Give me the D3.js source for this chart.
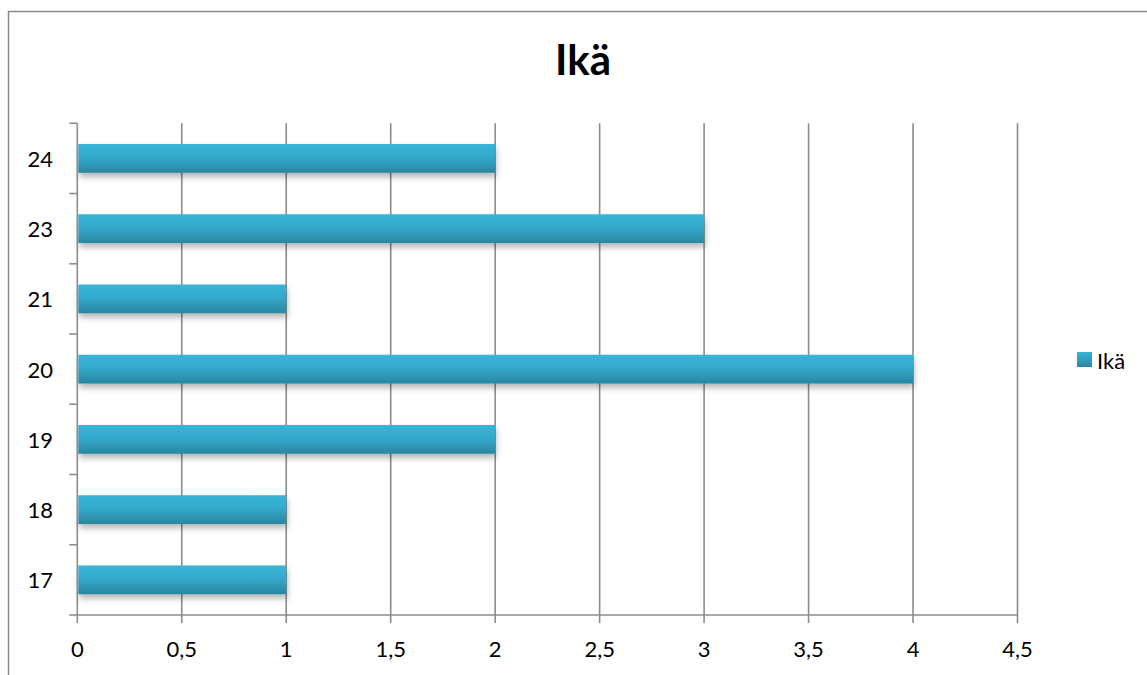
<!DOCTYPE html>
<html><head><meta charset="utf-8">
<script src="https://cdn.jsdelivr.net/npm/d3@7"></script>
<style>
html,body{margin:0;padding:0;background:#fff;}
svg{display:block;font-family:Lato,"Open Sans",sans-serif;}
</style></head>
<body>
<svg id="chart" width="1147" height="675"></svg>
<script>
const categories = ["17","18","19","20","21","23","24"];
const values = [1,1,2,4,1,3,2];
const xTicks = [0,0.5,1,1.5,2,2.5,3,3.5,4,4.5];
const seriesName = "Ikä";
const title = "Ikä";

const svg = d3.select("#chart");
const plot = {left:77.3, right:1017.5, top:123.3, bottom:615};

// chart border
svg.append("rect").attr("x",8.5).attr("y",11.5).attr("width",1160).attr("height",700)
  .attr("fill","#fff").attr("stroke","#8a8a8a").attr("stroke-width",1.5);

const defs = svg.append("defs");
const grad = defs.append("linearGradient").attr("id","barGrad").attr("x1",0).attr("y1",0).attr("x2",0).attr("y2",1);
grad.append("stop").attr("offset","0%").attr("stop-color","#37b5d8");
grad.append("stop").attr("offset","45%").attr("stop-color","#33a9cb");
grad.append("stop").attr("offset","100%").attr("stop-color","#2a86a0");
const lg = defs.append("linearGradient").attr("id","legGrad").attr("x1",0).attr("y1",0).attr("x2",0).attr("y2",1);
lg.append("stop").attr("offset","0%").attr("stop-color","#37b5d8");
lg.append("stop").attr("offset","100%").attr("stop-color","#2a86a0");
const f = defs.append("filter").attr("id","shadow").attr("x","-5%").attr("y","-30%").attr("width","110%").attr("height","180%");
f.append("feDropShadow").attr("dx",1).attr("dy",4).attr("stdDeviation",3).attr("flood-color","#000").attr("flood-opacity",0.3);

const x = d3.scaleLinear().domain([0,4.5]).range([plot.left,plot.right]);
const y = d3.scaleBand().domain(categories.slice().reverse()).range([plot.top,plot.bottom]).paddingInner(0.59).paddingOuter(0.295);
const yb = d3.scaleBand().domain(categories.slice().reverse()).range([plot.top,plot.bottom]);

// gridlines
svg.append("g").selectAll("line").data(xTicks.slice(1)).join("line")
  .attr("x1",d=>x(d)).attr("x2",d=>x(d)).attr("y1",plot.top).attr("y2",plot.bottom)
  .attr("stroke","#8c8c8c").attr("stroke-width",1.6);

// bars
svg.append("g").selectAll("rect").data(categories.map((c,i)=>({c,v:values[i]}))).join("rect")
  .attr("x",x(0)+1).attr("y",d=>y(d.c)).attr("width",d=>x(d.v)-x(0)-1).attr("height",y.bandwidth())
  .attr("fill","url(#barGrad)").attr("filter","url(#shadow)");

// y axis
const yAxisG = svg.append("g");
yAxisG.append("line").attr("x1",plot.left).attr("x2",plot.left).attr("y1",plot.top).attr("y2",plot.bottom)
  .attr("stroke","#8c8c8c").attr("stroke-width",1.6);
const yTickPos = yb.domain().map(c=>yb(c)).concat([plot.bottom]);
yAxisG.selectAll("line.t").data(yTickPos).join("line").attr("class","t")
  .attr("x1",plot.left-8).attr("x2",plot.left).attr("y1",d=>d).attr("y2",d=>d)
  .attr("stroke","#8c8c8c").attr("stroke-width",1.6);
yAxisG.selectAll("text").data(categories).join("text")
  .attr("x",53).attr("y",d=>yb(d)+yb.bandwidth()/2).attr("text-anchor","end").attr("dominant-baseline","central")
  .attr("font-size",22).attr("fill","#000").text(d=>d);

// x axis
const xAxisG = svg.append("g");
xAxisG.append("line").attr("x1",plot.left).attr("x2",plot.right).attr("y1",plot.bottom).attr("y2",plot.bottom)
  .attr("stroke","#8c8c8c").attr("stroke-width",1.6);
xAxisG.selectAll("line.t").data(xTicks).join("line").attr("class","t")
  .attr("x1",d=>x(d)).attr("x2",d=>x(d)).attr("y1",plot.bottom).attr("y2",plot.bottom+8)
  .attr("stroke","#8c8c8c").attr("stroke-width",1.6);
xAxisG.selectAll("text").data(xTicks).join("text")
  .attr("x",d=>x(d)).attr("y",657).attr("text-anchor","middle")
  .attr("font-size",22).attr("fill","#000").text(d=>String(d).replace(".",","));

// title
svg.append("text").attr("x",583).attr("y",75).attr("text-anchor","middle")
  .attr("font-size",42).attr("font-weight","bold").attr("fill","#000").text(title);

// legend
svg.append("rect").attr("x",1077).attr("y",352).attr("width",15).attr("height",15).attr("fill","url(#legGrad)");
svg.append("text").attr("x",1097).attr("y",360).attr("dominant-baseline","central").attr("font-size",22).attr("fill","#000").text(seriesName);
</script>
</body></html>
